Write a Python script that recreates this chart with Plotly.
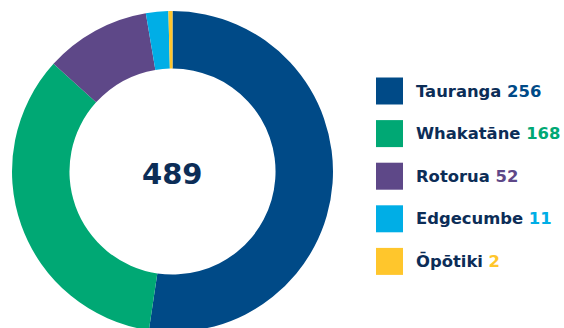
import plotly.graph_objects as go

categories = ["Tauranga", "Whakatāne", "Rotorua", "Edgecumbe", "Ōpōtiki"]
values = [256, 168, 52, 11, 2]
colors = ["#004A87", "#00A874", "#5E4888", "#00AEE6", "#FFC62C"]
navy = "#0C2D57"
FONT = "DejaVu Sans"

W, H = 564, 336
T, B = 11, 4
plot_h = H - T - B


def py(y):
    return 1 - (y - T) / plot_h


fig = go.Figure(go.Pie(
    labels=categories, values=values, hole=0.642, sort=False,
    direction="clockwise", rotation=0,
    marker=dict(colors=colors, line=dict(width=0)),
    textinfo="none", hoverinfo="label+value",
    domain=dict(x=[12 / W, 333 / W], y=[0, 1]),
    showlegend=False,
))

fig.add_annotation(
    x=172.5 / W, y=py(174), xref="paper", yref="paper",
    text=f"<b>{sum(values)}</b>", showarrow=False,
    font=dict(family=FONT, size=29, color=navy),
    xanchor="center", yanchor="middle",
)

y0, dy = 91, 42.6
for i, (cat, val, col) in enumerate(zip(categories, values, colors)):
    yc = y0 + i * dy
    fig.add_shape(type="rect", xref="paper", yref="paper",
                  x0=376 / W, x1=403 / W, y0=py(yc + 13.5), y1=py(yc - 13.5),
                  fillcolor=col, line=dict(width=0))
    fig.add_annotation(
        x=414 / W, y=py(yc), xref="paper", yref="paper",
        text=f"<b>{cat} <span style='color:{col}'>{val}</span></b>",
        showarrow=False, xanchor="left", yanchor="middle",
        font=dict(family=FONT, size=16.4, color=navy),
    )

fig.update_layout(
    width=W, height=H,
    margin=dict(l=0, r=0, t=T, b=B),
    paper_bgcolor="white", plot_bgcolor="white",
)

fig.write_html(
    "out.html",
    post_script="document.documentElement.style.overflow='hidden';document.body.style.overflow='hidden';document.body.style.margin='0';",
)
